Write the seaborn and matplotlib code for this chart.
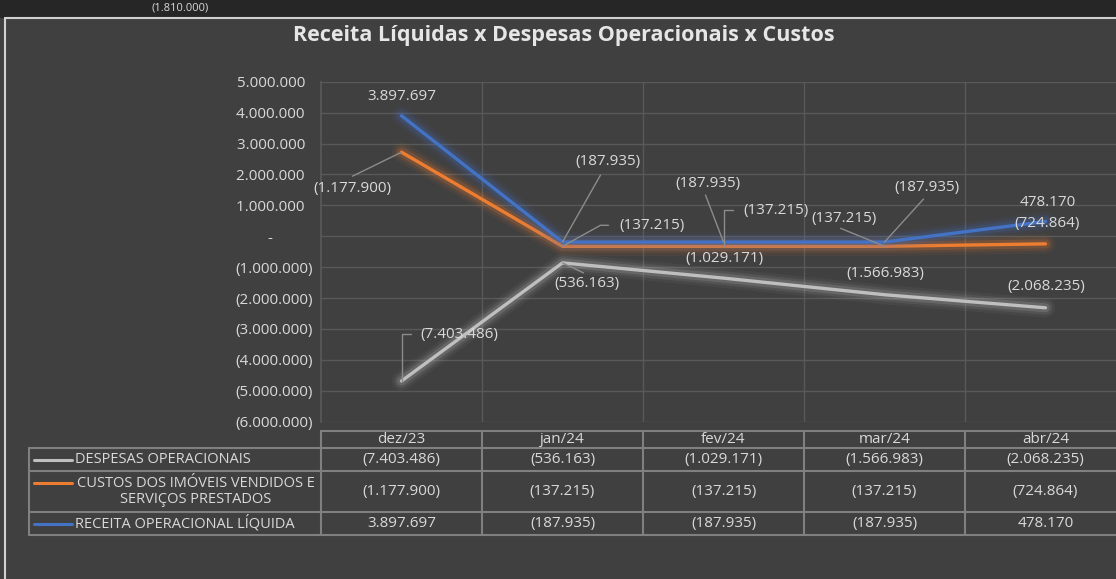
import numpy as np
import pandas as pd
import matplotlib
matplotlib.use("Agg")
import matplotlib.pyplot as plt
import seaborn as sns
from matplotlib import patheffects as pe
from matplotlib.transforms import offset_copy

# dados do gráfico
meses = ["dez/23", "jan/24", "fev/24", "mar/24", "abr/24"]
despesas = [-7403486, -536163, -1029171, -1566983, -2068235]
custos = [-1177900, -137215, -137215, -137215, -724864]
receita = [3897697, -187935, -187935, -187935, 478170]

nome_despesas = "DESPESAS OPERACIONAIS"
nome_custos = "CUSTOS DOS IMÓVEIS VENDIDOS E\nSERVIÇOS PRESTADOS"
nome_receita = "RECEITA OPERACIONAL LÍQUIDA"

titulo = "Receita Líquidas x Despesas Operacionais x Custos"

cores = {nome_receita: "#4472C4", nome_custos: "#ED7D31", nome_despesas: "#BFBFBF"}
FUNDO = "#404040"
TEXTO = "#D9D9D9"
GRADE = "#595959"
FS = 11


def fmt(v):
    s = f"{abs(v):,.0f}".replace(",", ".")
    return f"({s})" if v < 0 else s


def fmt_eixo(v, pos=None):
    # formato contábil: espaço do parêntese nos positivos, traço no zero
    if v == 0:
        return "-" + " " * 10
    return fmt(v) if v < 0 else fmt(v) + "  "


# linha empilhada (igual ao Excel): receita, + custos, + despesas
emp_receita = np.array(receita)
emp_custos = emp_receita + np.array(custos)
emp_despesas = emp_custos + np.array(despesas)

frames = []
for nome, orig, emp in [(nome_receita, receita, emp_receita),
                        (nome_custos, custos, emp_custos),
                        (nome_despesas, despesas, emp_despesas)]:
    frames.append(pd.DataFrame({"pos": range(len(meses)), "mes": meses,
                                "valor": orig, "empilhado": emp, "serie": nome}))
df = pd.concat(frames, ignore_index=True)

sns.set_theme(style="dark")
plt.rcParams["font.family"] = ["Open Sans", "DejaVu Sans"]

W, H = 1116, 579
fig = plt.figure(figsize=(W / 100, H / 100), dpi=100, facecolor=FUNDO)

# camada de fundo em pixels (faixa superior, bordas, tabela)
bg = fig.add_axes([0, 0, 1, 1], zorder=0)
bg.set_xlim(0, W)
bg.set_ylim(H, 0)
bg.axis("off")
bg.axhspan(0, 17, color="#262626", zorder=0)
bg.plot([5, W], [18, 18], color="#D0D0D0", lw=1.5)
bg.plot([5, 5], [18, H], color="#D0D0D0", lw=1.5)
bg.text(180, 8, "(1.810.000)", color=TEXTO, fontsize=8, ha="center", va="center")

ax = fig.add_axes([321 / W, (H - 421.7) / H, 805 / W, 340 / H], zorder=2)
ax.set_facecolor("none")

sns.lineplot(data=df, x="pos", y="empilhado", hue="serie", palette=cores,
             hue_order=[nome_despesas, nome_custos, nome_receita],
             linewidth=2.4, legend=False, sort=False, ax=ax)

for ln in ax.lines:
    c = ln.get_color()
    ln.set_solid_capstyle("round")
    ln.set_path_effects([
        pe.Stroke(linewidth=14, foreground=c, alpha=0.06),
        pe.Stroke(linewidth=10, foreground=c, alpha=0.10),
        pe.Stroke(linewidth=6.5, foreground=c, alpha=0.18),
        pe.Normal(),
    ])

ax.set_xlim(-0.5, len(meses) - 0.5)
ax.set_ylim(-6_000_000, 5_000_000)
ax.set_yticks(np.arange(-6_000_000, 5_000_001, 1_000_000))
ax.yaxis.set_major_formatter(matplotlib.ticker.FuncFormatter(fmt_eixo))
ax.set_xticks(np.arange(0.5, len(meses) - 0.5, 1))
ax.set_xticklabels([])
ax.tick_params(axis="y", colors=TEXTO, labelsize=FS, length=0, pad=5.8)
ax.tick_params(axis="x", length=0)
ax.grid(True, color=GRADE, lw=1)
for s in ["top", "right", "bottom"]:
    ax.spines[s].set_visible(False)
ax.spines["left"].set_color(GRADE)
ax.set_xlabel("")
ax.set_ylabel("")

# rótulos de dados: (serie, índice, deslocamento do texto, guia)
rotulos = [
    (nome_receita, 0, (0, -19), None),
    (nome_custos, 0, (-49, 36), [(0, 0), (-49, 24)]),
    (nome_despesas, 0, (58, -47), [(0, 0), (0, -47), (9, -47)]),
    (nome_receita, 1, (45, -81), [(0, 0), (38, -67)]),
    (nome_custos, 1, (89, -21), [(0, 0), (38, -21), (46, -21)]),
    (nome_despesas, 1, (24, 21), [(0, 0), (21, 10)]),
    (nome_receita, 2, (-16, -59), [(0, 0), (-18, -47)]),
    (nome_custos, 2, (53, -36), [(0, 0), (0, -36), (9, -36)]),
    (nome_despesas, 2, (1, -20), None),
    (nome_receita, 3, (42, -55), [(0, 0), (39, -43)]),
    (nome_custos, 3, (-41, -28), [(0, 0), (-44, -18)]),
    (nome_despesas, 3, (1, -21), None),
    (nome_receita, 4, (2, -19), None),
    (nome_custos, 4, (2, -20), None),
    (nome_despesas, 4, (1, -21), None),
]
for nome, i, (dx, dy), guia in rotulos:
    linha = df[(df.serie == nome) & (df.pos == i)].iloc[0]
    x0, y0 = linha.pos, linha.empilhado
    px0, py0 = ax.transData.transform((x0, y0))
    if guia:
        gx = [px0 + gxx for gxx, _ in guia]
        gy = [py0 - gyy for _, gyy in guia]
        xy = ax.transData.inverted().transform(np.column_stack([gx, gy]))
        ax.plot(xy[:, 0], xy[:, 1], color="#8C8C8C", lw=1, zorder=5, clip_on=False)
    tr = offset_copy(ax.transData, fig=fig, x=dx, y=-dy, units="dots")
    ax.text(x0, y0, fmt(linha.valor), transform=tr, color=TEXTO, fontsize=FS,
            ha="center", va="center", zorder=6, clip_on=False)

fig.text(564 / W, 1 - 36 / H, titulo, color="#E6E6E6", fontsize=15.5,
         fontweight="bold", ha="center", va="center")

# tabela de dados
BORDA = "#808080"
col_x = [321 + 161 * k for k in range(len(meses) + 1)]
topo, cab, linhas_y = 430.7, 448, [448, 471, 512, 535]
esq = 29
bg.plot([col_x[0], W + 20], [topo, topo], color=BORDA, lw=1.5, zorder=3)
for yy in linhas_y:
    bg.plot([esq, W + 20], [yy, yy], color=BORDA, lw=1.5, zorder=3)
for xx in col_x[:-1]:
    bg.plot([xx, xx], [topo, linhas_y[-1]], color=BORDA, lw=1.5, zorder=3)
bg.plot([esq, esq], [linhas_y[0], linhas_y[-1]], color=BORDA, lw=1.5, zorder=3)

for k, m in enumerate(meses):
    bg.text((col_x[k] + col_x[k + 1]) / 2, (topo + cab) / 2, m, color=TEXTO,
            fontsize=FS, ha="center", va="center", zorder=4)

for r, (nome, vals) in enumerate([(nome_despesas, despesas), (nome_custos, custos),
                                  (nome_receita, receita)]):
    y_a, y_b = linhas_y[r], linhas_y[r + 1]
    ym = (y_a + y_b) / 2
    for k, v in enumerate(vals):
        bg.text((col_x[k] + col_x[k + 1]) / 2, ym, fmt(v), color=TEXTO,
                fontsize=FS, ha="center", va="center", zorder=4)
    if "\n" in nome:
        y_leg = y_a + 11.5
        bg.text(196, ym, nome, color=TEXTO, fontsize=10.5, ha="center",
                va="center", linespacing=1.15, zorder=4)
    else:
        y_leg = ym
        bg.text(75, ym, nome, color=TEXTO, fontsize=10.5, ha="left",
                va="center", zorder=4)
    bg.plot([34, 72], [y_leg, y_leg], color=cores[nome], lw=2.2, zorder=4)

fig.savefig("out.png", dpi=100, facecolor=FUNDO)
